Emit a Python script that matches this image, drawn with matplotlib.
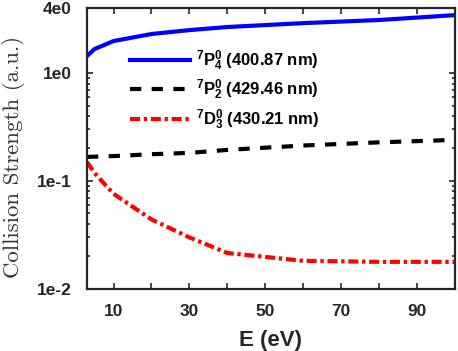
import numpy as np
import matplotlib
matplotlib.use("Agg")
import matplotlib.pyplot as plt
from matplotlib.ticker import FixedLocator, NullFormatter

energy = [3, 5, 10, 20, 30, 40, 60, 80, 100]
p4 = [1.44, 1.67, 1.98, 2.3, 2.5, 2.67, 2.9, 3.1, 3.44]
p2 = [0.167, 0.168, 0.170, 0.177, 0.182, 0.194, 0.213, 0.228, 0.24]
d3 = [0.150, 0.118, 0.076, 0.044, 0.030, 0.0215, 0.0182, 0.0178, 0.0178]

labels = [r"$^{7}\mathbf{P}_{4}^{0}$ (400.87 nm)",
          r"$^{7}\mathbf{P}_{2}^{0}$ (429.46 nm)",
          r"$^{7}\mathbf{D}_{3}^{0}$ (430.21 nm)"]

xticks = [10, 20, 30, 40, 50, 60, 70, 80, 90]
xticklabels = ["10", "", "30", "", "50", "", "70", "", "90"]
yticks = [0.01, 0.1, 1, 4]
yticklabels = ["1e-2", "1e-1", "1e0", "4e0"]

plt.rcParams["font.family"] = "Liberation Sans"
plt.rcParams["font.weight"] = "bold"
plt.rcParams["mathtext.fontset"] = "custom"
plt.rcParams["mathtext.rm"] = "Liberation Sans:bold"
plt.rcParams["mathtext.bf"] = "Liberation Sans:bold"
plt.rcParams["mathtext.it"] = "Liberation Sans:bold"
plt.rcParams["mathtext.default"] = "bf"

fig = plt.figure(figsize=(4.58, 3.51), dpi=100)
ax = fig.add_axes([0.19, 0.177, 0.803, 0.8])

ax.plot(energy, p4, color="#0000ff", lw=3, label=labels[0])
ax.plot(energy, p2, color="black", lw=3, dashes=(2.7, 2.5), label=labels[1])
ax.plot(energy, d3, color="#ff0000", lw=3, dashes=(2.4, 0.9, 0.8, 0.9), label=labels[2])

ax.set_yscale("log")
ax.set_xlim(3, 100)
ax.set_ylim(0.01, 4)

ax.set_xticks(xticks)
ax.set_xticklabels(xticklabels)
ax.set_yticks(yticks)
ax.set_yticklabels(yticklabels)
minor = [m * d for d in (0.01, 0.1) for m in range(2, 10)]
ax.yaxis.set_minor_locator(FixedLocator(minor))
ax.yaxis.set_minor_formatter(NullFormatter())

ax.tick_params(which="both", direction="in", top=True, right=True,
               width=1.2, colors="#262626", labelsize=12.5, pad=11)
ax.tick_params(which="major", length=4)
ax.tick_params(which="minor", length=2.5)
for s in ax.spines.values():
    s.set_linewidth(1.6)
    s.set_color("#262626")

ax.set_xlabel("E (eV)", fontsize=16, fontweight="bold", color="#262626", labelpad=8)
ax.set_ylabel("Collision Strength (a.u.)", fontsize=16.5, family="cmr10",
              fontweight="normal", color="#333333")
ax.yaxis.set_label_coords(-0.168, 0.47)

leg = ax.legend(loc="upper left", bbox_to_anchor=(0.117, 0.856), frameon=False,
                fontsize=12, handlelength=3.6, labelspacing=0.3, handletextpad=0.35,
                borderpad=0, borderaxespad=0)

fig.savefig("out.png", dpi=100)
